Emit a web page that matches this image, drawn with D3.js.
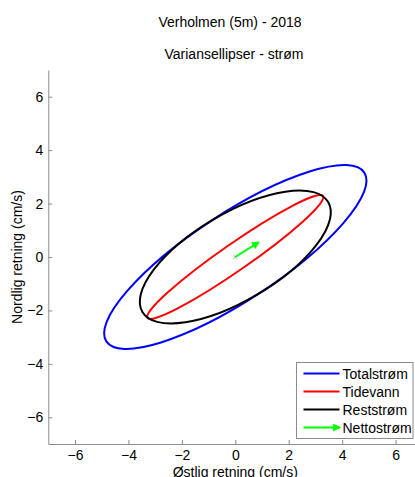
<!DOCTYPE html>
<html>
<head>
<meta charset="utf-8">
<script src="https://cdn.jsdelivr.net/npm/d3@7"></script>
<style>
  body { margin: 0; background: #fff; }
  svg { display: block; font-family: "Liberation Sans", Arial, sans-serif; }
</style>
</head>
<body>
<svg id="chart" width="415" height="477"></svg>
<script>
// Ellipse parameters (cm/s)
const ellipseNames = ['Totalstrøm', 'Tidevann', 'Reststrøm'];
const semiMajor = [5.77, 4.0, 4.04];
const semiMinor = [1.63, 0.5, 1.63];
const angleDeg = [33.2, 34.8, 30.6];
const ellipseColors = ['#0000ff', '#ff0000', '#000000'];

// Net current vector (east, north)
const netName = 'Nettostrøm';
const netCurrent = [0.87, 0.55];

const tickValues = [-6, -4, -2, 0, 2, 4, 6];

const svg = d3.select('#chart');
const margin = { left: 48.3, top: 70, bottom: 444 };
const unit = (margin.bottom - margin.top) / 14;

const xScale = d3.scaleLinear().domain([-7, 7]).range([margin.left, margin.left + 14 * unit]);
const yScale = d3.scaleLinear().domain([-7, 7]).range([margin.bottom, margin.top]);

// Titles
svg.append('text').attr('x', 230).attr('y', 26.5).attr('text-anchor', 'middle')
  .attr('font-size', 14).text('Verholmen (5m) - 2018');
svg.append('text').attr('x', 234).attr('y', 59.3).attr('text-anchor', 'middle')
  .attr('font-size', 14).text('Variansellipser - strøm');

// Axes (ticks pointing inward)
const xAxis = svg.append('g')
  .attr('transform', `translate(0, ${margin.bottom})`)
  .call(d3.axisBottom(xScale).tickValues(tickValues).tickSizeInner(-4).tickSizeOuter(0).tickPadding(6));
const yAxis = svg.append('g')
  .attr('transform', `translate(${margin.left}, 0)`)
  .call(d3.axisLeft(yScale).tickValues(tickValues).tickSizeInner(-4).tickSizeOuter(0).tickPadding(5));

[xAxis, yAxis].forEach(ax => {
  ax.select('.domain').attr('stroke', '#8c8c8c');
  ax.selectAll('.tick line').attr('stroke', '#8c8c8c');
  ax.selectAll('.tick text').attr('fill', '#000').attr('font-size', 14)
    .attr('font-family', '"Liberation Sans", Arial, sans-serif');
});
yAxis.selectAll('.tick text').attr('x', -5);

svg.append('text').attr('x', xScale(0)).attr('y', 477).attr('text-anchor', 'middle')
  .attr('font-size', 14).text('Østlig retning (cm/s)');
svg.append('text')
  .attr('transform', `translate(22, ${yScale(0)}) rotate(-90)`)
  .attr('text-anchor', 'middle').attr('font-size', 14).text('Nordlig retning (cm/s)');

// Arrow marker
svg.append('defs').append('marker')
  .attr('id', 'arrow').attr('viewBox', '0 0 10 10')
  .attr('refX', 8).attr('refY', 5)
  .attr('markerWidth', 4).attr('markerHeight', 4)
  .attr('orient', 'auto')
  .append('path').attr('d', 'M0,0 L10,5 L0,10 Z').attr('fill', '#00ff00');

// Variance ellipses
const cx = xScale(0), cy = yScale(0);
ellipseNames.forEach((name, i) => {
  svg.append('ellipse')
    .attr('cx', cx).attr('cy', cy)
    .attr('rx', xScale(semiMajor[i]) - cx)
    .attr('ry', cy - yScale(semiMinor[i]))
    .attr('transform', `rotate(${-angleDeg[i]}, ${cx}, ${cy})`)
    .attr('fill', 'none')
    .attr('stroke', ellipseColors[i])
    .attr('stroke-width', 2);
});

// Origin marker
svg.append('path')
  .attr('d', d3.symbol(d3.symbolX, 14)())
  .attr('transform', `translate(${cx}, ${cy})`)
  .attr('stroke', '#b0b0b0').attr('stroke-width', 1).attr('fill', 'none');

// Net current arrow
svg.append('line')
  .attr('x1', cx).attr('y1', cy)
  .attr('x2', xScale(netCurrent[0])).attr('y2', yScale(netCurrent[1]))
  .attr('stroke', '#00ff00').attr('stroke-width', 2)
  .attr('marker-end', 'url(#arrow)');

// Legend
const legend = svg.append('g').attr('transform', 'translate(296.5, 362.5)');
legend.append('rect').attr('width', 116.5).attr('height', 76)
  .attr('fill', '#fff').attr('stroke', '#8c8c8c').attr('stroke-width', 1);

const legendNames = ellipseNames.concat([netName]);
const legendColors = ellipseColors.concat(['#00ff00']);
legendNames.forEach((name, i) => {
  const ly = 11 + i * 18;
  const line = legend.append('line')
    .attr('x1', 7).attr('x2', 43).attr('y1', ly).attr('y2', ly)
    .attr('stroke', legendColors[i]).attr('stroke-width', 2);
  if (name === netName) line.attr('marker-end', 'url(#arrow)');
  legend.append('text').attr('x', 46).attr('y', ly + 5)
    .attr('font-size', 14).text(name);
});
</script>
</body>
</html>
